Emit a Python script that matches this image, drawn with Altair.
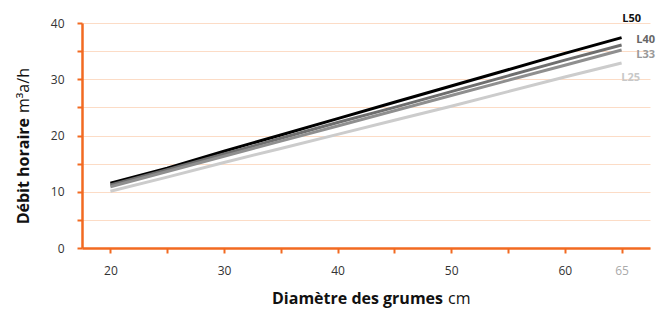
import altair as alt
import pandas as pd

diam = [20, 25, 30, 35, 40, 45, 50, 55, 60, 65]
series = ["L50", "L40", "L33", "L25"]
L50 = [11.5, 14.2, 17.2, 20.1, 23.0, 25.9, 28.8, 31.7, 34.6, 37.4]
L40 = [11.2, 13.9, 16.7, 19.5, 22.3, 25.0, 27.8, 30.6, 33.4, 36.1]
L33 = [10.9, 13.6, 16.3, 19.0, 21.7, 24.4, 27.1, 29.8, 32.5, 35.2]
L25 = [10.1, 12.6, 15.2, 17.7, 20.2, 22.7, 25.2, 27.8, 30.4, 32.9]
line_colors = ["#000000", "#6e6e6e", "#8f8f8f", "#cccccc"]
label_colors = ["#111111", "#666666", "#999999", "#c8c8c8"]
x_ticks = [20, 25, 30, 35, 40, 45, 50, 55, 60, 65]
x_labels = [20, 30, 40, 50, 60, 65]
y_ticks = [0, 5, 10, 15, 20, 25, 30, 35, 40]
y_labels = [0, 10, 20, 30, 40]

rows = []
for name, vals in zip(series, [L50, L40, L33, L25]):
    for d, v in zip(diam, vals):
        rows.append({"diam": d, "val": v, "serie": name})
df = pd.DataFrame(rows)

ORANGE = "#f26a21"
FONT = "Open Sans"

x_enc = alt.X(
    "diam:Q",
    scale=alt.Scale(domain=[17.5, 67.5], nice=False, zero=False),
    axis=alt.Axis(
        values=x_ticks,
        title=None,
        grid=False,
        domainColor=ORANGE,
        domainWidth=2.5,
        tickColor=ORANGE,
        tickWidth=2,
        tickSize=5,
        labelPadding=12,
        labelFont=FONT,
        labelFontSize=12,
        labelExpr="indexof([" + ",".join(str(v) for v in x_labels) + "], datum.value) >= 0 ? datum.label : ''",
        labelColor={"condition": {"test": "datum.value == 65", "value": "#aaaaaa"}, "value": "#333333"},
    ),
)
y_enc = alt.Y(
    "val:Q",
    scale=alt.Scale(domain=[0, 40], nice=False),
    axis=alt.Axis(
        values=y_ticks,
        title=None,
        grid=True,
        gridColor="#fcdcc6",
        gridWidth=1,
        domainColor=ORANGE,
        domainWidth=2.5,
        tickColor=ORANGE,
        tickWidth=2,
        tickSize=5,
        labelPadding=13,
        labelFont=FONT,
        labelFontSize=12,
        labelColor="#333333",
        labelExpr="indexof([" + ",".join(str(v) for v in y_labels) + "], datum.value) >= 0 ? datum.label : ''",
    ),
)

lines = alt.Chart(df).mark_line(strokeWidth=3).encode(
    x=x_enc,
    y=y_enc,
    color=alt.Color("serie:N", scale=alt.Scale(domain=series, range=line_colors), legend=None),
    order=alt.Order("serie:N"),
)

# series labels near line ends (x, y in plot pixels, alignment)
label_pos = [(559, -4, "right"), (573, 17, "right"), (573, 32, "right"), (558, 55, "right")]
label_layers = []
for name, col, (px, py, al) in zip(series, label_colors, label_pos):
    label_layers.append(
        alt.Chart(pd.DataFrame({"t": [name]})).mark_text(
            font=FONT, fontSize=11, fontWeight="bold", color=col, align=al, baseline="middle"
        ).encode(x=alt.value(px), y=alt.value(py), text="t:N")
    )

y_title_bold = alt.Chart(pd.DataFrame({"t": ["Débit horaire"]})).mark_text(
    font=FONT, fontSize=16, fontWeight="bold", color="#111111", angle=270, align="right", baseline="middle"
).encode(x=alt.value(-58), y=alt.value(95), text="t:N")
y_title_reg = alt.Chart(pd.DataFrame({"t": ["m³a/h"]})).mark_text(
    font=FONT, fontSize=16, color="#111111", angle=270, align="left", baseline="middle"
).encode(x=alt.value(-58), y=alt.value(90), text="t:N")
x_title_bold = alt.Chart(pd.DataFrame({"t": ["Diamètre des grumes"]})).mark_text(
    font=FONT, fontSize=16, fontWeight="bold", color="#111111", align="right", baseline="middle"
).encode(x=alt.value(361), y=alt.value(276), text="t:N")
x_title_reg = alt.Chart(pd.DataFrame({"t": ["cm"]})).mark_text(
    font=FONT, fontSize=16, color="#111111", align="left", baseline="middle"
).encode(x=alt.value(366), y=alt.value(276), text="t:N")

chart = alt.layer(
    lines, *label_layers, y_title_bold, y_title_reg, x_title_bold, x_title_reg
).properties(
    width=568,
    height=225,
    autosize=alt.AutoSizeParams(type="none"),
    padding={"left": 74, "top": 15, "right": 6, "bottom": 62},
    background="#ffffff",
).configure_view(stroke=None)

chart.save("out.html", embed_options={"renderer": "svg", "actions": False})
